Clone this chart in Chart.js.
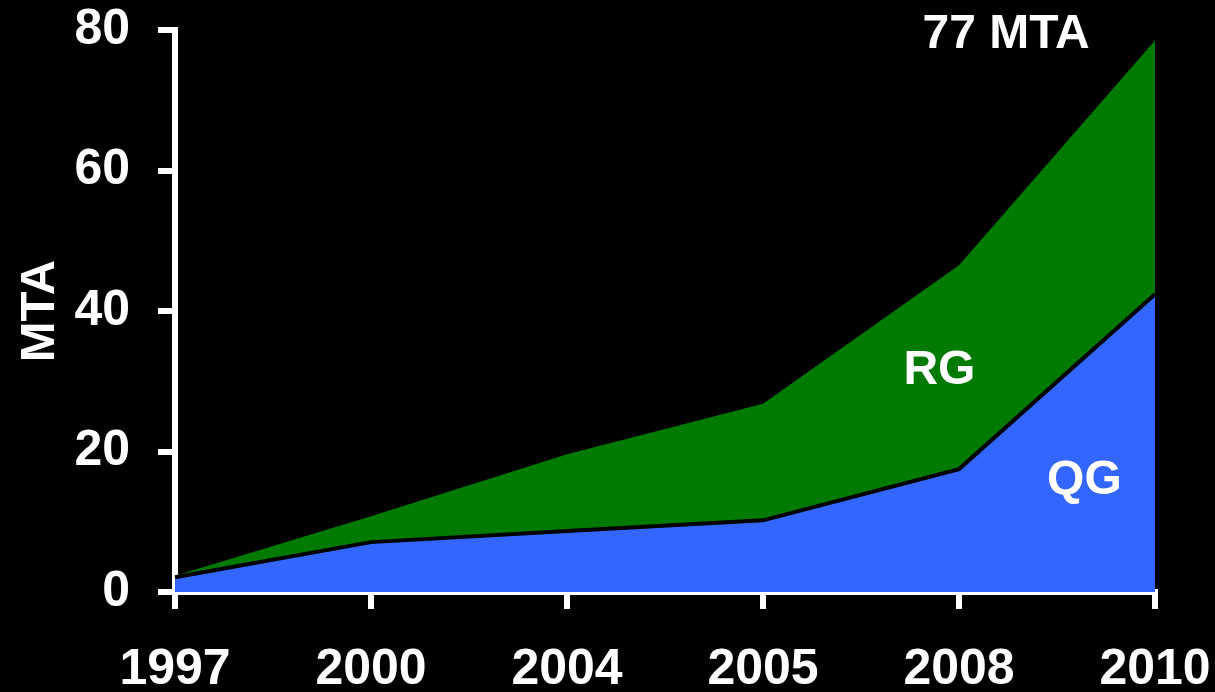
<!DOCTYPE html>
<html>
<head>
<meta charset="utf-8">
<script src="https://cdn.jsdelivr.net/npm/chart.js@4.4.1/dist/chart.umd.min.js"></script>
<style>
  html, body { margin: 0; padding: 0; background: #000; }
  #wrap { width: 1215px; height: 692px; position: relative; }
</style>
</head>
<body>
<div id="wrap"><canvas id="c" width="1215" height="692"></canvas></div>
<script>
const years = ['1997', '2000', '2004', '2005', '2008', '2010'];
const qgValues = [2.1, 7.1, 8.7, 10.2, 17.5, 42.4];
const rgValues = [0.2, 3.7, 10.9, 16.6, 29.0, 36.1];
const yTicks = [0, 20, 40, 60, 80];
const yTitle = 'MTA';
const annotationTexts = ['77 MTA', 'RG', 'QG'];
const annotationX = [4.24, 3.9, 4.64];
const annotationY = [79.3, 31.5, 15.8];

const FONT = '"Liberation Sans", Arial, sans-serif';

const bgPlugin = {
  id: 'bg',
  beforeDraw(chart) {
    const ctx = chart.ctx;
    ctx.save();
    ctx.fillStyle = '#000';
    ctx.fillRect(0, 0, chart.width, chart.height);
    ctx.restore();
  }
};

const textPlugin = {
  id: 'texts',
  afterDatasetsDraw(chart) {
    const ctx = chart.ctx;
    const xs = chart.scales.x, ys = chart.scales.y;
    ctx.save();
    ctx.fillStyle = '#fff';
    ctx.font = 'bold 48px ' + FONT;
    ctx.textAlign = 'center';
    ctx.textBaseline = 'middle';
    annotationTexts.forEach((t, i) => {
      const x0 = xs.getPixelForValue(Math.floor(annotationX[i]));
      const x1 = xs.getPixelForValue(Math.ceil(annotationX[i]));
      const frac = annotationX[i] - Math.floor(annotationX[i]);
      const px = x0 + (x1 - x0) * frac;
      ctx.fillText(t, px, ys.getPixelForValue(annotationY[i]));
    });
    ctx.restore();
  }
};

new Chart(document.getElementById('c'), {
  type: 'line',
  data: {
    labels: years,
    datasets: [
      {
        label: 'QG',
        data: qgValues,
        backgroundColor: '#3366FF',
        borderColor: '#000',
        borderWidth: 4,
        fill: 'origin',
        pointRadius: 0,
        tension: 0
      },
      {
        label: 'RG',
        data: rgValues,
        backgroundColor: '#007A00',
        borderColor: 'rgba(0,0,0,0)',
        borderWidth: 0,
        fill: '-1',
        pointRadius: 0,
        tension: 0
      }
    ]
  },
  options: {
    responsive: false,
    animation: false,
    devicePixelRatio: 1,
    layout: { padding: 0 },
    plugins: {
      legend: { display: false },
      tooltip: { enabled: false },
      filler: { propagate: false }
    },
    scales: {
      x: {
        offset: false,
        grid: {
          drawOnChartArea: false,
          drawTicks: true,
          tickLength: 17,
          tickWidth: 6,
          color: '#fff',
          lineWidth: 6
        },
        border: { display: true, color: '#fff', width: 6 },
        ticks: {
          color: '#fff',
          padding: 36,
          maxRotation: 0,
          autoSkip: false,
          font: { family: FONT, size: 50, weight: 'bold', lineHeight: 1 }
        },
        afterFit(scale) {
          scale.height = 100;
          scale.paddingLeft = 0;
          scale.paddingRight = 60;
        }
      },
      y: {
        stacked: true,
        min: 0,
        max: 80,
        afterBuildTicks(scale) { scale.ticks = yTicks.map(v => ({ value: v })); },
        grid: {
          drawOnChartArea: false,
          drawTicks: true,
          tickLength: 17,
          tickWidth: 6,
          color: '#fff',
          lineWidth: 6
        },
        border: { display: true, color: '#fff', width: 6 },
        ticks: {
          color: '#fff',
          padding: 28,
          font: { family: FONT, size: 50, weight: 'bold', lineHeight: 1 }
        },
        title: {
          display: true,
          text: yTitle,
          color: '#fff',
          padding: { top: 16, bottom: 0 },
          font: { family: FONT, size: 49, weight: 'bold', lineHeight: 1 }
        },
        afterFit(scale) {
          scale.width = 175;
          scale.paddingTop = 30;
          scale.paddingBottom = 0;
        }
      }
    }
  },
  plugins: [bgPlugin, textPlugin]
});
</script>
</body>
</html>
